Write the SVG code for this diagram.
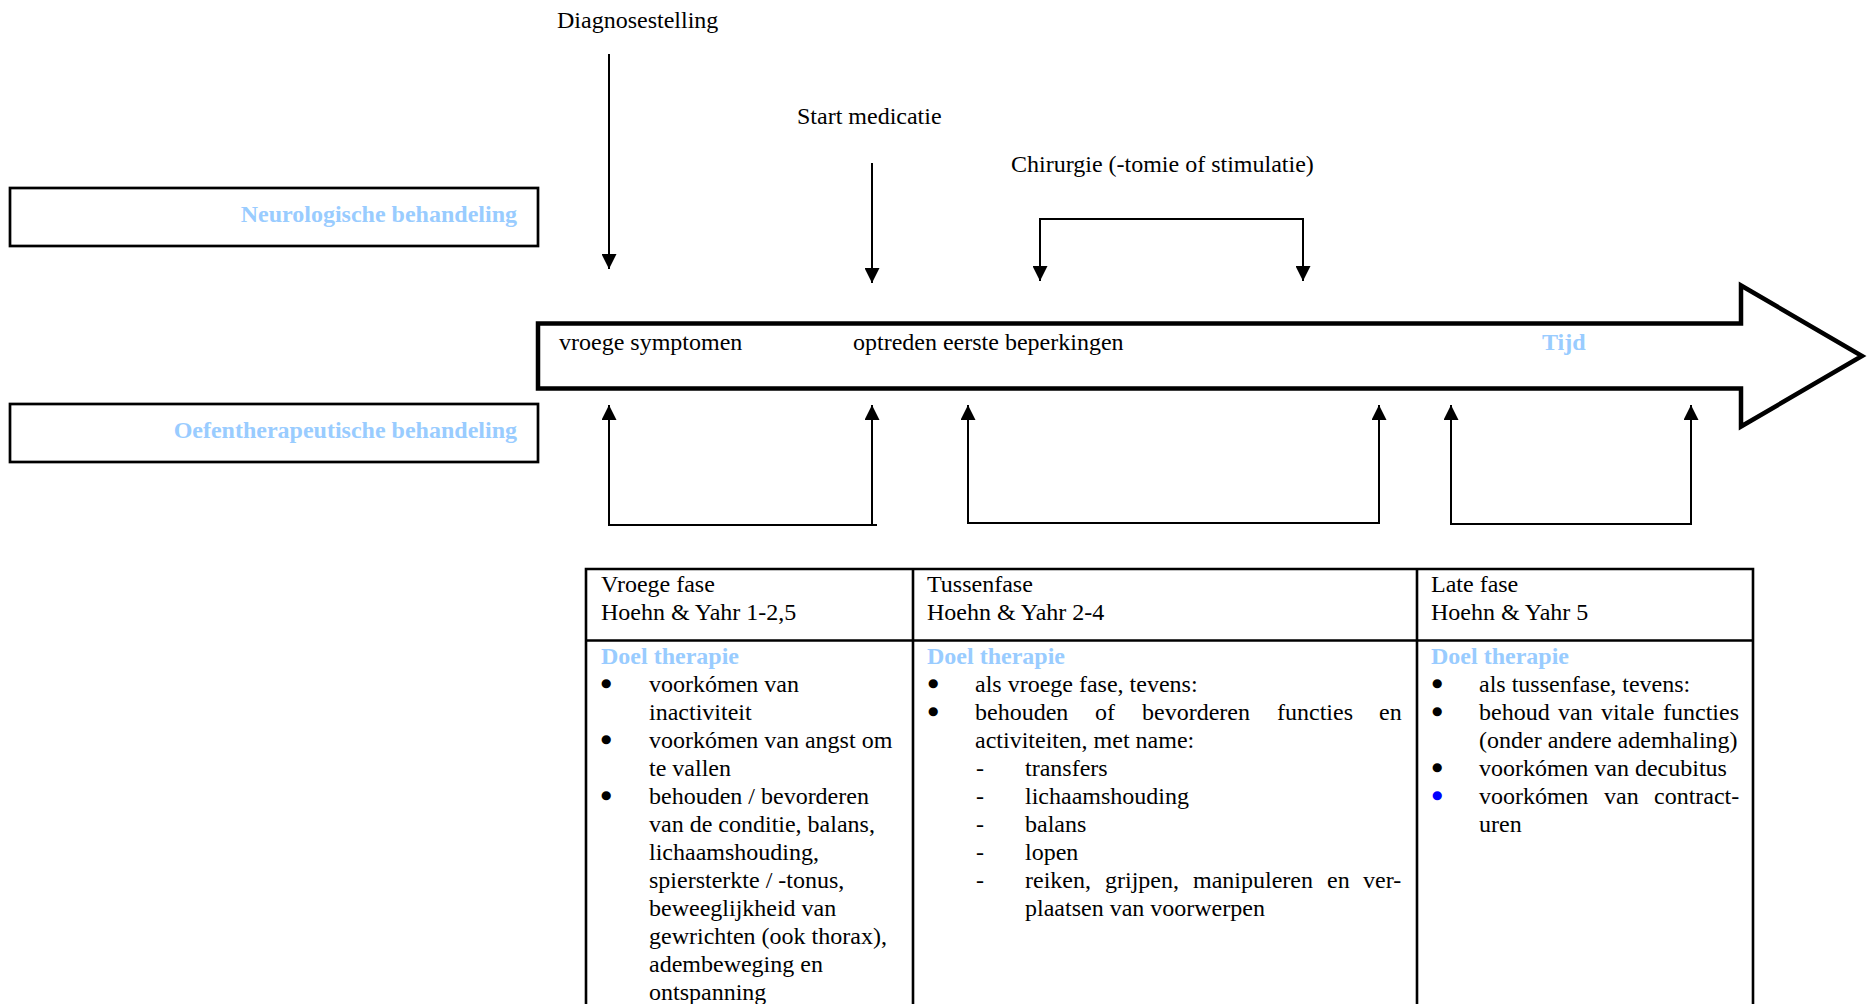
<svg xmlns="http://www.w3.org/2000/svg" width="1869" height="1004" viewBox="0 0 1869 1004">
  <style>
    text { font-family: "Liberation Serif", "Times New Roman", serif; font-size: 24px; fill: #000; }
    .hl { font-weight: bold; fill: #99ccff; }
    .bul { stroke: #000; stroke-width: 3.4; stroke-linejoin: round; }
    .bul.blue { fill: #0000ff; stroke: #0000ff; }
    .box { fill: #fff; stroke: #000; stroke-width: 2.7; }
    .conn { fill: none; stroke: #000; stroke-width: 2; }
    .grid { fill: none; stroke: #000; stroke-width: 2.6; }
  </style>
  <defs>
    <marker id="tip" viewBox="0 0 10 10" refX="10" refY="5" markerUnits="userSpaceOnUse" markerWidth="15" markerHeight="15" orient="auto-start-reverse">
      <path d="M0,0 L10,5 L0,10 z" fill="#000"/>
    </marker>
  </defs>
  <rect width="1869" height="1004" fill="#fff"/>

  <!-- treatment tracks -->
  <g id="neuro">
    <rect class="box" x="10" y="188" width="528" height="58"/>
    <text class="hl" x="517" y="222" text-anchor="end">Neurologische behandeling</text>
  </g>
  <g id="oefen">
    <rect class="box" x="10" y="404" width="528" height="58"/>
    <text class="hl" x="517" y="438" text-anchor="end">Oefentherapeutische behandeling</text>
  </g>

  <!-- time axis -->
  <g id="tijd">
    <polygon points="538,323.5 1741,323.5 1741,285.5 1862,356 1741,426.5 1741,388.5 538,388.5" fill="#fff" stroke="#000" stroke-width="4.5" stroke-linejoin="miter" stroke-miterlimit="10"/>
    <text x="559" y="350">vroege symptomen</text>
    <text x="853" y="350">optreden eerste beperkingen</text>
    <text class="hl" x="1542" y="350">Tijd</text>
  </g>

  <!-- event labels -->
  <g id="diagnose"><text x="557" y="28">Diagnosestelling</text></g>
  <g id="medicatie"><text x="797" y="124">Start medicatie</text></g>
  <g id="chirurgie"><text x="1011" y="172">Chirurgie (-tomie of stimulatie)</text></g>

  <!-- connectors -->
  <g id="connectors">
    <path class="conn" d="M609,54 V269" marker-end="url(#tip)"/>
    <path class="conn" d="M872,163 V283" marker-end="url(#tip)"/>
    <path class="conn" d="M1040,281 V219 H1303 V281" marker-start="url(#tip)" marker-end="url(#tip)"/>
    <path class="conn" d="M609,405 V525 H872 V405" marker-start="url(#tip)" marker-end="url(#tip)"/>
    <path class="conn" d="M872,525 H877"/>
    <path class="conn" d="M968,405 V523 H1379 V405" marker-start="url(#tip)" marker-end="url(#tip)"/>
    <path class="conn" d="M1451,405 V524 H1691 V405" marker-start="url(#tip)" marker-end="url(#tip)"/>
  </g>

  <!-- phase table -->
  <g id="table">
    <path class="grid" d="M586,1010 V569 H1753 V1010 M586,640.5 H1753 M913,569 V1010 M1417,569 V1010"/>
  </g>

  <g id="fase-vroeg">
    <text x="601" y="592">Vroege fase</text>
    <text x="601" y="620">Hoehn &amp; Yahr 1-2,5</text>
    <text class="hl" x="601" y="664">Doel therapie</text>
    <text class="bul" x="602" y="692">•</text><text x="649" y="692">voorkómen van</text>
    <text x="649" y="720">inactiviteit</text>
    <text class="bul" x="602" y="748">•</text><text x="649" y="748">voorkómen van angst om</text>
    <text x="649" y="776">te vallen</text>
    <text class="bul" x="602" y="804">•</text><text x="649" y="804">behouden / bevorderen</text>
    <text x="649" y="832">van de conditie, balans,</text>
    <text x="649" y="860">lichaamshouding,</text>
    <text x="649" y="888">spiersterkte / -tonus,</text>
    <text x="649" y="916">beweeglijkheid van</text>
    <text x="649" y="944">gewrichten (ook thorax),</text>
    <text x="649" y="972">adembeweging en</text>
    <text x="649" y="1000">ontspanning</text>
  </g>

  <g id="fase-tussen">
    <text x="927" y="592">Tussenfase</text>
    <text x="927" y="620">Hoehn &amp; Yahr 2-4</text>
    <text class="hl" x="927" y="664">Doel therapie</text>
    <text class="bul" x="929" y="692">•</text><text x="975" y="692">als vroege fase, tevens:</text>
    <text class="bul" x="929" y="720">•</text>
    <text y="720"><tspan x="975">behouden</tspan><tspan x="1095">of</tspan><tspan x="1142">bevorderen</tspan><tspan x="1277">functies</tspan><tspan x="1379">en</tspan></text>
    <text x="975" y="748">activiteiten, met name:</text>
    <text x="976" y="776">-</text><text x="1025" y="776">transfers</text>
    <text x="976" y="804">-</text><text x="1025" y="804">lichaamshouding</text>
    <text x="976" y="832">-</text><text x="1025" y="832">balans</text>
    <text x="976" y="860">-</text><text x="1025" y="860">lopen</text>
    <text x="976" y="888">-</text>
    <text y="888"><tspan x="1025">reiken,</tspan><tspan x="1105">grijpen,</tspan><tspan x="1193">manipuleren</tspan><tspan x="1327">en</tspan><tspan x="1363">ver-</tspan></text>
    <text x="1025" y="916">plaatsen van voorwerpen</text>
  </g>

  <g id="fase-laat">
    <text x="1431" y="592">Late fase</text>
    <text x="1431" y="620">Hoehn &amp; Yahr 5</text>
    <text class="hl" x="1431" y="664">Doel therapie</text>
    <text class="bul" x="1433" y="692">•</text><text x="1479" y="692">als tussenfase, tevens:</text>
    <text class="bul" x="1433" y="720">•</text>
    <text y="720"><tspan x="1479">behoud</tspan><tspan x="1558">van</tspan><tspan x="1601">vitale</tspan><tspan x="1663">functies</tspan></text>
    <text x="1479" y="748">(onder andere ademhaling)</text>
    <text class="bul" x="1433" y="776">•</text><text x="1479" y="776">voorkómen van decubitus</text>
    <text class="bul blue" x="1433" y="804">•</text>
    <text y="804"><tspan x="1479">voorkómen</tspan><tspan x="1604">van</tspan><tspan x="1654">contract-</tspan></text>
    <text x="1479" y="832">uren</text>
  </g>
</svg>
